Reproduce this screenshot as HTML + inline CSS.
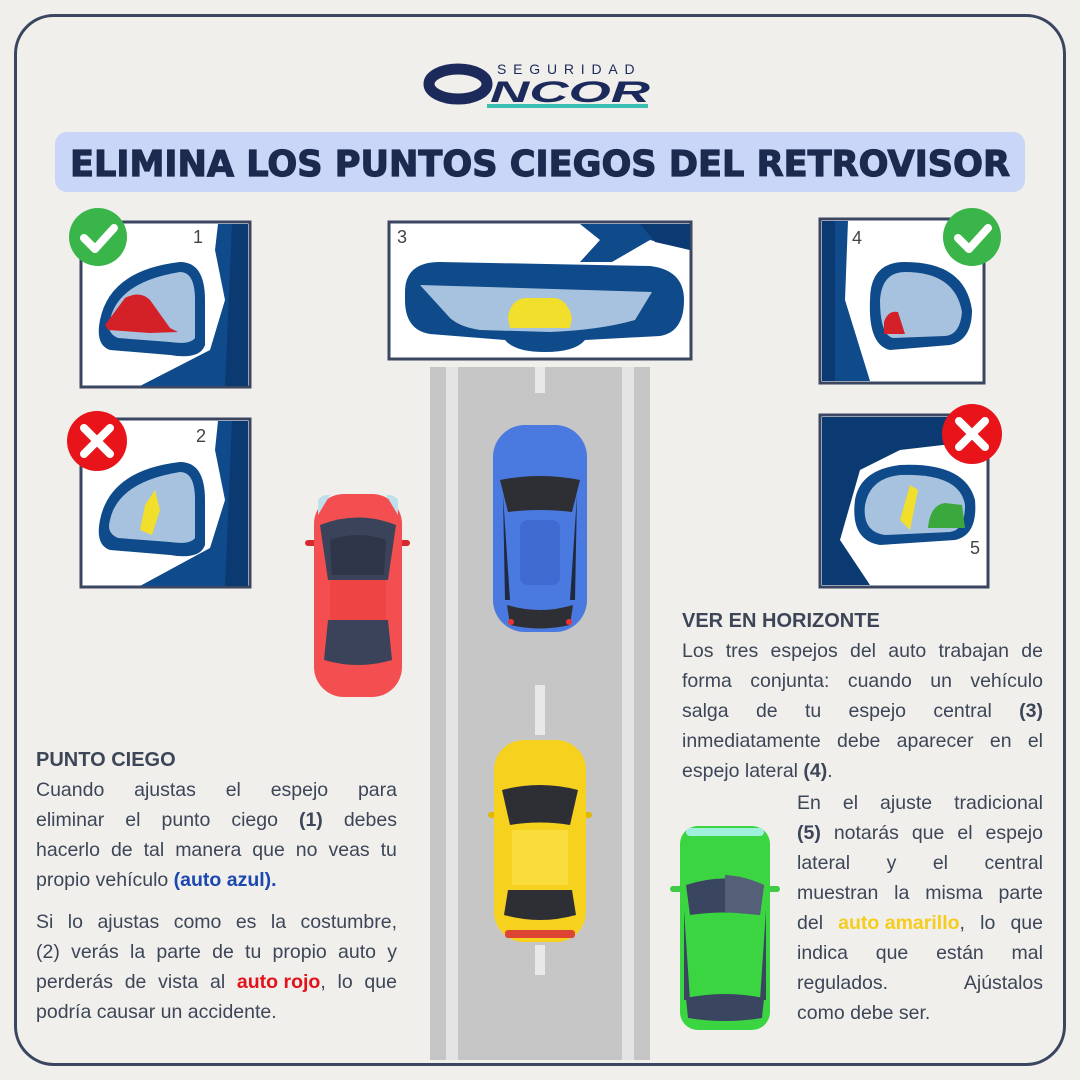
<!DOCTYPE html>
<html><head><meta charset="utf-8">
<style>
*{margin:0;padding:0;box-sizing:border-box}
body{width:1080px;height:1080px;background:#f0efeb;position:relative;overflow:hidden;font-family:"Liberation Sans",sans-serif;color:#3d4658}
.frame{position:absolute;left:14px;top:14px;width:1052px;height:1052px;border:3px solid #3a4660;border-radius:40px}
.titlebg{position:absolute;left:55px;top:132px;width:970px;height:60px;background:#c9d6f7;border-radius:12px}
.txt{position:absolute;font-size:19.5px;line-height:30px}
.txt div{white-space:nowrap;display:flex;justify-content:space-between}
.txt div.l{justify-content:flex-start;gap:6px}
.h{font-weight:bold;font-size:20px}
b{font-weight:bold}
svg{position:absolute;left:0;top:0}
</style></head><body>
<div class="frame"></div>
<div class="titlebg"></div>
<svg width="1080" height="1080" viewBox="0 0 1080 1080">
<text x="70" y="176" font-family="DejaVu Sans" font-weight="bold" font-size="36" fill="#1b2a4e" stroke="#1b2a4e" stroke-width="1.2" textLength="940" lengthAdjust="spacingAndGlyphs">ELIMINA LOS PUNTOS CIEGOS DEL RETROVISOR</text>
<!-- logo -->
<text x="497" y="74" font-family="Liberation Sans" font-size="14" letter-spacing="6.8" fill="#1b2a5a">SEGURIDAD</text>
<ellipse cx="458" cy="84" rx="29" ry="15" fill="none" stroke="#1b2a5a" stroke-width="11"/>
<text x="490" y="102" font-family="Liberation Sans" font-weight="bold" font-style="italic" font-size="30" fill="#1b2a5a" textLength="160" lengthAdjust="spacingAndGlyphs">NCOR</text>
<rect x="487" y="104" width="161" height="4" fill="#3cbfb3"/>
<!-- road -->
<rect x="430" y="367" width="220" height="693" fill="#c6c6c6"/>
<rect x="446" y="367" width="12" height="693" fill="#e4e4e4"/>
<rect x="622" y="367" width="12" height="693" fill="#e4e4e4"/>
<rect x="535" y="367" width="10" height="26" fill="#e8e8e8"/>
<rect x="535" y="685" width="10" height="50" fill="#e8e8e8"/>
<rect x="535" y="945" width="10" height="30" fill="#e8e8e8"/>
<!-- panel 1 -->
<g>
<rect x="81" y="222" width="169" height="165" fill="#fff" stroke="#3b4660" stroke-width="3"/>
<path d="M218 224 L248 224 L248 386 L140 386 L210 350 L225 300 L215 250 Z" fill="#0f4a8a"/>
<path d="M232 224 L248 224 L248 386 L225 386 Z" fill="#0b3a72"/>
<path d="M100 320 Q110 270 180 262 Q205 262 205 300 L205 345 Q200 360 170 355 L110 350 Q95 345 100 320Z" fill="#0f4a8a"/>
<path d="M110 320 Q118 282 180 272 Q195 272 195 300 L195 338 Q190 345 170 342 L118 338 Q106 333 110 320Z" fill="#a6c2de"/>
<path d="M105 325 L125 298 Q140 290 150 300 L170 328 L178 332 L150 333 L108 330Z" fill="#d42128"/>
<text x="193" y="243" font-size="18" fill="#444">1</text>
</g>
<!-- panel 2 -->
<g>
<rect x="81" y="419" width="169" height="168" fill="#fff" stroke="#3b4660" stroke-width="3"/>
<path d="M218 421 L248 421 L248 586 L140 586 L210 548 L225 500 L215 450 Z" fill="#0f4a8a"/>
<path d="M232 421 L248 421 L248 586 L225 586 Z" fill="#0b3a72"/>
<path d="M100 520 Q110 470 180 462 Q205 462 205 500 L205 545 Q200 560 170 555 L110 550 Q95 545 100 520Z" fill="#0f4a8a"/>
<path d="M110 520 Q118 482 180 472 Q195 472 195 500 L195 538 Q190 545 170 542 L118 538 Q106 533 110 520Z" fill="#a6c2de"/>
<path d="M140 530 L145 505 L155 490 L160 510 L152 535Z" fill="#f1df2b"/>
<text x="196" y="442" font-size="18" fill="#444">2</text>
</g>
<!-- panel 3 -->
<g>
<rect x="389" y="222" width="302" height="137" fill="#fff" stroke="#3b4660" stroke-width="3"/>
<path d="M580 224 L690 224 L690 250 L650 240 L612 262 L580 262 L600 240 Z" fill="#0f4a8a"/>
<path d="M640 224 L690 224 L690 250 L655 242Z" fill="#0b3a72"/>
<path d="M405 292 Q405 262 440 262 L650 266 Q684 270 684 300 Q684 332 660 336 L585 340 Q575 352 545 352 Q515 352 505 340 L430 334 Q405 330 405 300Z" fill="#0f4a8a"/>
<path d="M420 285 L652 292 L635 320 Q600 330 550 332 L480 330 Q460 327 450 318Z" fill="#a6c2de"/>
<path d="M508 318 Q510 300 525 298 L555 298 Q568 300 572 318 L570 328 L510 328Z" fill="#f1df2b"/>
<text x="397" y="243" font-size="18" fill="#444">3</text>
</g>
<!-- panel 4 -->
<g>
<rect x="820" y="219" width="164" height="164" fill="#fff" stroke="#3b4660" stroke-width="3"/>
<path d="M822 221 L848 221 L845 300 L870 381 L822 381Z" fill="#0f4a8a"/>
<path d="M822 221 L835 221 L835 381 L822 381Z" fill="#0b3a72"/>
<path d="M870 300 Q870 262 905 262 Q965 262 972 310 Q972 340 950 345 L890 350 Q868 345 870 300Z" fill="#0f4a8a"/>
<path d="M880 300 Q882 272 905 272 Q955 272 962 312 Q960 335 945 336 L893 338 Q880 335 880 300Z" fill="#a6c2de"/>
<path d="M884 322 Q888 310 898 312 L905 334 L884 334Z" fill="#d42128"/>
<text x="852" y="244" font-size="18" fill="#444">4</text>
</g>
<!-- panel 5 -->
<g>
<rect x="820" y="415" width="168" height="172" fill="#fff" stroke="#3b4660" stroke-width="3"/>
<path d="M822 417 L986 417 L986 440 L900 450 L860 470 L840 540 L870 585 L822 585Z" fill="#0b3a72"/>
<path d="M855 500 Q860 470 900 465 Q965 462 975 500 Q978 535 955 540 L880 545 Q850 540 855 500Z" fill="#0f4a8a"/>
<path d="M865 505 Q870 478 900 475 Q960 473 965 505 Q965 530 950 532 L885 535 Q862 532 865 505Z" fill="#a6c2de"/>
<path d="M900 520 L910 485 L918 490 L910 530Z" fill="#f1df2b"/>
<path d="M928 528 Q930 505 945 503 L962 505 L965 528Z" fill="#3aa83d"/>
<text x="970" y="554" font-size="18" fill="#444">5</text>
</g>
<!-- badges -->
<g><circle cx="98" cy="237" r="29" fill="#3ab54a"/><path d="M84 238 L95 249 L114 228" stroke="#fff" stroke-width="8" fill="none" stroke-linecap="round" stroke-linejoin="round"/></g>
<g><circle cx="972" cy="237" r="29" fill="#3ab54a"/><path d="M958 238 L969 249 L988 228" stroke="#fff" stroke-width="8" fill="none" stroke-linecap="round" stroke-linejoin="round"/></g>
<g><circle cx="97" cy="441" r="30" fill="#e8141a"/><path d="M84 428 L110 454 M110 428 L84 454" stroke="#fff" stroke-width="8" stroke-linecap="round"/></g>
<g><circle cx="972" cy="434" r="30" fill="#e8141a"/><path d="M959 421 L985 447 M985 421 L959 447" stroke="#fff" stroke-width="8" stroke-linecap="round"/></g>
<!-- red car -->
<g>
<rect x="305" y="540" width="105" height="6" rx="3" fill="#d8282e"/>
<rect x="314" y="494" width="88" height="203" rx="30" fill="#f44f50"/>
<path d="M320 525 Q358 510 396 525 L388 580 L328 580Z" fill="#3a435a"/>
<path d="M330 540 Q358 530 386 540 L384 575 L332 575Z" fill="#2f364a"/>
<rect x="330" y="580" width="56" height="40" fill="#ef4444"/>
<path d="M328 620 L388 620 L392 660 Q358 670 324 660Z" fill="#3a435a"/>
<path d="M318 500 Q322 494 330 495 L318 515Z M398 500 Q394 494 386 495 L398 515Z" fill="#bde0ec"/>
</g>
<!-- blue car -->
<g>
<rect x="493" y="425" width="94" height="207" rx="32" fill="#4a7ae0"/>
<path d="M500 480 Q540 472 580 480 L572 512 Q540 508 508 512Z" fill="#2d2f35"/>
<rect x="520" y="520" width="40" height="65" rx="8" fill="#3f6ad0"/>
<path d="M503 495 L510 600 L505 600Z M577 495 L570 600 L575 600Z" fill="#1f2a40"/>
<path d="M507 605 Q540 615 573 605 L570 625 Q540 632 510 625Z" fill="#2d2f35"/>
<circle cx="511" cy="622" r="3" fill="#e33"/><circle cx="569" cy="622" r="3" fill="#e33"/>
</g>
<!-- yellow car -->
<g>
<rect x="488" y="812" width="104" height="6" rx="3" fill="#e0b800"/>
<rect x="494" y="740" width="92" height="202" rx="30" fill="#f6d21f"/>
<path d="M502 790 Q540 780 578 790 L570 825 Q540 820 510 825Z" fill="#2d2f35"/>
<rect x="512" y="830" width="56" height="55" fill="#fadd3c"/>
<path d="M508 890 L572 890 L576 915 Q540 925 504 915Z" fill="#2d2f35"/>
<rect x="505" y="930" width="70" height="8" rx="3" fill="#d43"/>
</g>
<!-- green car -->
<g>
<rect x="670" y="886" width="110" height="6" rx="3" fill="#3fcc44"/>
<rect x="680" y="826" width="90" height="204" rx="18" fill="#3ad541"/>
<rect x="686" y="828" width="78" height="8" rx="4" fill="#9ef0dc"/>
<path d="M686 885 Q725 872 764 885 L760 915 Q725 910 690 915Z" fill="#3a4560"/>
<path d="M725 875 Q745 876 764 885 L760 915 L725 912Z" fill="#545f78"/>
<path d="M684 910 L690 1000 L684 1000Z M766 910 L760 1000 L766 1000Z" fill="#3a4560"/>
<path d="M686 998 Q725 990 764 998 L762 1018 Q725 1024 688 1018Z" fill="#3a4560"/>
</g>
</svg>
<div class="txt" style="left:36px;top:745px;width:361px">
<div class="l h">PUNTO CIEGO</div>
<div><span>Cuando</span><span>ajustas</span><span>el</span><span>espejo</span><span>para</span></div>
<div><span>eliminar</span><span>el</span><span>punto</span><span>ciego</span><span><b>(1)</b></span><span>debes</span></div>
<div><span>hacerlo</span><span>de</span><span>tal</span><span>manera</span><span>que</span><span>no</span><span>veas</span><span>tu</span></div>
<div class="l"><span>propio vehículo <b style="color:#1a48b0">(auto azul).</b></span></div>
</div>
<div class="txt" style="left:36px;top:907px;width:361px">
<div><span>Si</span><span>lo</span><span>ajustas</span><span>como</span><span>es</span><span>la</span><span>costumbre,</span></div>
<div><span>(2)</span><span>verás</span><span>la</span><span>parte</span><span>de</span><span>tu</span><span>propio</span><span>auto</span><span>y</span></div>
<div><span>perderás</span><span>de</span><span>vista</span><span>al</span><span><b style="color:#e3131b">auto rojo</b>,</span><span>lo</span><span>que</span></div>
<div class="l"><span>podría causar un accidente.</span></div>
</div>
<div class="txt" style="left:682px;top:606px;width:361px">
<div class="l h">VER EN HORIZONTE</div>
<div><span>Los</span><span>tres</span><span>espejos</span><span>del</span><span>auto</span><span>trabajan</span><span>de</span></div>
<div><span>forma</span><span>conjunta:</span><span>cuando</span><span>un</span><span>vehículo</span></div>
<div><span>salga</span><span>de</span><span>tu</span><span>espejo</span><span>central</span><span><b>(3)</b></span></div>
<div><span>inmediatamente</span><span>debe</span><span>aparecer</span><span>en</span><span>el</span></div>
<div class="l"><span>espejo lateral <b>(4)</b>.</span></div>
</div>
<div class="txt" style="left:797px;top:788px;width:246px">
<div><span>En</span><span>el</span><span>ajuste</span><span>tradicional</span></div>
<div><span><b>(5)</b></span><span>notarás</span><span>que</span><span>el</span><span>espejo</span></div>
<div><span>lateral</span><span>y</span><span>el</span><span>central</span></div>
<div><span>muestran</span><span>la</span><span>misma</span><span>parte</span></div>
<div><span>del</span><span><b style="color:#f5cd1e">auto amarillo</b>,</span><span>lo</span><span>que</span></div>
<div><span>indica</span><span>que</span><span>están</span><span>mal</span></div>
<div><span>regulados.</span><span>Ajústalos</span></div>
<div class="l"><span>como debe ser.</span></div>
</div>
</body></html>
